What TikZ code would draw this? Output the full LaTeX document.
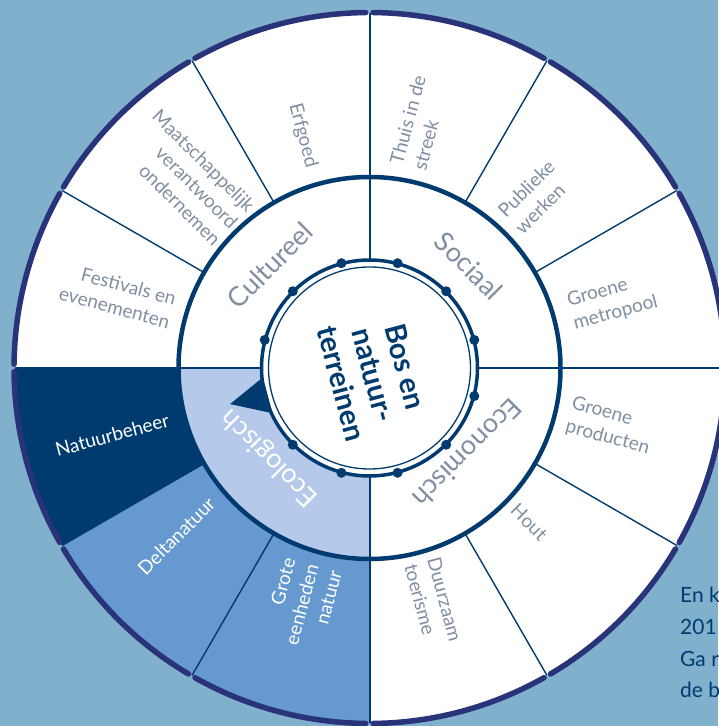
\documentclass[tikz,border=0pt]{standalone}
\usepackage{fontspec}
\setmainfont{Lato}
\tikzset{seg/.style = {font=\fontsize{19}{24}\selectfont, text=mgrey, inner sep=0}}
\tikzset{aspect/.style = {font=\fontsize{27}{30}\selectfont, text=mgrey, inner sep=0}}
\tikzset{dot/.style = {fill=mnavy, circle, inner sep=0, minimum size=10}}
\tikzset{rim/.style = {mrim, line width=5.5, line cap=round}}
\tikzset{spoke/.style = {mnavy, line width=1.4}}
\tikzset{note/.style = {font=\fontsize{21}{31}\selectfont, text=mnavy, anchor=base west, inner sep=0}}
\definecolor{mbg}{rgb}{0.50, 0.69, 0.80}
\definecolor{mnavy}{rgb}{0, 0.23, 0.44}
\definecolor{mrim}{rgb}{0.16, 0.2, 0.48}
\definecolor{mlight}{rgb}{0.71, 0.79, 0.92}
\definecolor{mmid}{rgb}{0.4, 0.6, 0.81}
\definecolor{mgrey}{rgb}{0.5, 0.56, 0.63}
\begin{document}
\begin{tikzpicture}[x=1pt, y=1pt]
      \fill[mbg] (0, 0) rectangle (718, 726);
      \useasboundingbox (0, 0) rectangle (718, 726);

      \begin{scope}[shift={(369.5, 358)}]
        \fill[white] (0, 0) circle (355);
        \fill[mnavy] (0, 0) -- (180:355) arc (180:210:355) -- cycle;
        \fill[mmid] (0, 0) -- (210:355) arc (210:270:355) -- cycle;
        \fill[mlight] (0, 0) -- (180:191) arc (180:270:191) -- cycle;
        \fill[white] (0, 0) circle (108);

        \foreach \a in {30, 60, 120, 150, 210, 240, 300, 330}
          \draw[spoke] (\a:191) -- (\a:355);
        \foreach \a in {0, 90, 180, 270}
          \draw[mnavy, line width=2] (\a:108) -- (\a:355);

        \draw[mnavy, line width=4.5] (0, 0) circle (191);
        \foreach \a in {0, 30, ..., 330}
          \draw[rim] (\a+0.6:355.5) arc (\a+0.6:\a+29.4:355.5);

        \draw[mnavy, line width=3.5] (0, 0) circle (108);
        \draw[mnavy, line width=1.3] (0, 0) circle (101);
        \foreach \a in {15, 45, ..., 165, 225, 255, ..., 345}
          \node[dot] (dot\a) at (\a:108.5) {};
        \fill[mnavy] (185:107) -- (194.5:144) -- (205:107) -- cycle; % pointer

        % outer segments
        \node[seg, rotate=-75] (erfgoed) at (106:242) {Erfgoed};
        \node[seg, rotate=75, align=left] (thuis) at (78.5:250) {Thuis in de\\streek};
        \node[seg, rotate=45, align=left] (publiek) at (46:238) {Publieke\\werken};
        \node[seg, rotate=15, align=left] (metropool) at (15.3:252) {Groene\\metropool};
        \node[seg, rotate=-15, align=left] (producten) at (-13.6:248) {Groene\\producten};
        \node[seg, rotate=-45] (hout) at (-44:222) {Hout};
        \node[seg, rotate=-75, align=left] (toerisme) at (-74.8:243) {Duurzaam\\toerisme};
        \node[seg, rotate=75, align=right, text=white] (eenheden) at (254:246) {Grote\\eenheden\\natuur};
        \node[seg, rotate=45, text=white] (delta) at (221:256) {Deltanatuur};
        \node[seg, rotate=15, text=white] (beheer) at (194.6:266) {Natuurbeheer};
        \node[seg, rotate=-15, align=right] (festival) at (164:262) {Festivals en\\evenementen};
        \node[seg, rotate=-45, align=right] (mvo) at (133.8:264) {Maatschappelijk\\verantwoord\\ondernemen};

        % inner ring
        \node[aspect, rotate=45] (cultureel) at (134:143) {Cultureel};
        \node[aspect, rotate=-45] (sociaal) at (45.7:142.5) {Sociaal};
        \node[aspect, rotate=225] (economisch) at (-41:130) {Economisch};
        \node[aspect, rotate=135, text=white] (ecologisch) at (222:134) {Ecologisch};

        \node[font=\bfseries\fontsize{29}{33}\selectfont, text=mnavy, rotate=-75, align=center, inner sep=0]
          (bos) at (4, -7) {Bos en\\natuur-\\terreinen};
      \end{scope}

      \node[note] (note1) at (680, 123) {En k};
      \node[note] (note2) at (680, 91) {201};
      \node[note] (note3) at (680, 59) {Ga r};
      \node[note] (note4) at (680, 28) {de b};
\end{tikzpicture}
\end{document}
